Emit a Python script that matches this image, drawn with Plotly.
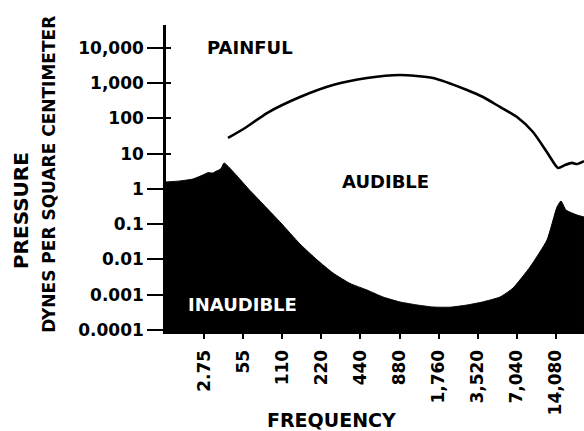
import plotly.graph_objects as go

# Threshold of hearing (top edge of the inaudible region), Hz -> dynes/cm^2
thr_freq = [14.0, 18.0, 22.6, 27.0, 29.5, 32.3, 34.0, 35.9, 37.5, 39.2, 62.1, 105.8,
            150.8, 203.8, 270.6, 365.7, 494.5, 656.8, 887.6, 1199, 1592, 2153,
            2910, 3824, 5223, 6577, 8888, 12015, 14347, 15397, 16827, 20454, 23150]
thr_val = [1.58, 1.69, 1.92, 2.5, 2.9, 2.84, 3.2, 3.46, 4.0, 5.47, 0.91, 0.116,
           0.0275, 0.0098, 0.00414, 0.0021, 0.00136, 0.000863, 0.000623, 0.000513,
           0.000449, 0.000443, 0.000511, 0.000622, 0.000863, 0.00155, 0.00612,
           0.0357, 0.308, 0.457, 0.253, 0.183, 0.161]

# Threshold of pain
pain_freq = [42.1, 56.9, 84.0, 150.8, 270.6, 494.5, 887.6, 1592, 2910, 3866,
             5223, 7063, 9376, 12230, 14600, 16530, 18720, 20454, 23150]
pain_val = [28.0, 53.7, 143, 407, 891, 1409, 1714, 1409, 644, 407,
            212, 110, 41.4, 10.0, 3.95, 4.8, 5.5, 5.1, 6.2]

# Axis ticks
x_tickvals = [27.5, 55, 110, 220, 440, 880, 1760, 3520, 7040, 14080]
x_ticktext = ["2.75", "55", "110", "220", "440", "880", "1,760", "3,520", "7,040", "14,080"]
y_tickvals = [10000, 1000, 100, 10, 1, 0.1, 0.01, 0.001, 0.0001]
y_ticktext = ["10,000", "1,000", "100", "10", "1", "0.1", "0.01", "0.001", "0.0001"]

X_RANGE = [1.1468, 4.3646]   # log10 Hz
Y_RANGE = [-4.057, 4.652]    # log10 dynes/cm^2
floor = 10 ** Y_RANGE[0]

FONT = "DejaVu Sans"
tick_font = dict(family=FONT, size=17, color="black", weight="bold")

fig = go.Figure()

# Baseline along the bottom of the plot, used as the lower edge of the fill
fig.add_trace(go.Scatter(
    x=[thr_freq[0], thr_freq[-1]], y=[floor, floor], mode="lines",
    line=dict(color="black", width=0), hoverinfo="skip", showlegend=False,
))

# Inaudible region: black area under the hearing threshold
fig.add_trace(go.Scatter(
    x=thr_freq, y=thr_val,
    fill="tonexty", fillcolor="black", mode="lines",
    line=dict(color="black", width=1, shape="spline", smoothing=0.5),
    hoverinfo="skip", showlegend=False,
))

# Threshold of pain
fig.add_trace(go.Scatter(
    x=pain_freq, y=pain_val, mode="lines",
    line=dict(color="black", width=2.6, shape="spline", smoothing=0.6),
    showlegend=False, yaxis="y2",
))

fig.update_layout(
    width=584, height=431,
    margin=dict(l=166, r=0, t=25, b=99),
    paper_bgcolor="white", plot_bgcolor="white",
    xaxis=dict(
        type="log", range=X_RANGE, tickvals=x_tickvals, ticktext=x_ticktext,
        tickangle=-90, ticks="outside", ticklen=5, tickwidth=2, tickcolor="black",
        showline=True, linecolor="black", linewidth=2, showgrid=False,
        zeroline=False, tickfont=tick_font, ticklabelstandoff=4,
    ),
    yaxis=dict(
        type="log", range=Y_RANGE, tickvals=y_tickvals, ticktext=y_ticktext,
        ticks="outside", ticklen=16, tickwidth=2, tickcolor="black",
        showline=True, linecolor="black", linewidth=2.5, showgrid=False,
        zeroline=False, tickfont=tick_font,
    ),
    yaxis2=dict(
        type="log", range=Y_RANGE, overlaying="y", side="left",
        tickvals=y_tickvals, ticks="inside", ticklen=5, tickwidth=2,
        tickcolor="black", showticklabels=False, showline=False,
        showgrid=False, zeroline=False,
    ),
)

def note(text, x, y, size=18, color="black", angle=0):
    fig.add_annotation(
        text=text, x=x, y=y, xref="paper", yref="paper", showarrow=False,
        textangle=angle, xanchor="center", yanchor="middle",
        font=dict(family=FONT, size=size, color=color, weight="bold"),
    )

note("PAINFUL", 0.201, 0.928)
note("AUDIBLE", 0.525, 0.489)
note("INAUDIBLE", 0.182, 0.088, color="white")
note("FREQUENCY", 0.397, -0.287, size=19)
note("PRESSURE", -0.347, 0.397, size=20, angle=-90)
note("DYNES PER SQUARE CENTIMETER", -0.280, 0.515, size=17, angle=-90)

fig.write_html("out.html")
